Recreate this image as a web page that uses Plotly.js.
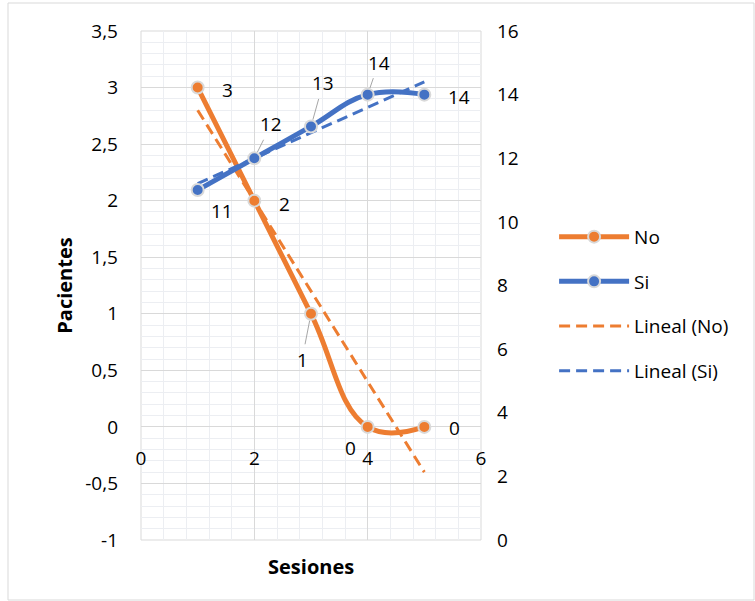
<!DOCTYPE html>
<html>
<head>
<meta charset="utf-8">
<script src="https://cdn.plot.ly/plotly-3.0.1.min.js"></script>
<style>
  html, body { margin: 0; padding: 0; background: #ffffff; }
  #chart { width: 755px; height: 601px; }
</style>
</head>
<body>
<div id="chart"></div>
<script>
// ---- data ----
const sessions = [1, 2, 3, 4, 5];
const noValues = [3, 2, 1, 0, 0];
const siValues = [11, 12, 13, 14, 14];
const seriesNames = ['No', 'Si', 'Lineal (No)', 'Lineal (Si)'];
const xTickVals = [0, 2, 4, 6];
const xTickLabels = ['0', '2', '4', '6'];
const leftTickVals = [-1, -0.5, 0, 0.5, 1, 1.5, 2, 2.5, 3, 3.5];
const leftTickLabels = ['-1', '-0,5', '0', '0,5', '1', '1,5', '2', '2,5', '3', '3,5'];
const rightTickVals = [0, 2, 4, 6, 8, 10, 12, 14, 16];
const rightTickLabels = ['0', '2', '4', '6', '8', '10', '12', '14', '16'];

// ---- label placement (style only: pixel offsets, leader flag) ----
const noLabelOffsets = [[30, 2, false], [30, 3, false], [-9, 46, true], [-17, 21, false], [30, 1, false]];
const siLabelOffsets = [[24, 21, false], [17, -34, true], [12, -43, true], [11, -32, true], [35, 2, false]];

const ORANGE = '#ED7D31';
const BLUE = '#4472C4';
const FONT = '"Open Sans", Lato, sans-serif';
const FS = 19;
const TITLE_FS = 20;

// least-squares linear trendline computed from the series
function linearFit(xs, ys) {
  const n = xs.length;
  const mx = xs.reduce((a, b) => a + b, 0) / n;
  const my = ys.reduce((a, b) => a + b, 0) / n;
  let sxy = 0, sxx = 0;
  for (let i = 0; i < n; i++) { sxy += (xs[i] - mx) * (ys[i] - my); sxx += (xs[i] - mx) * (xs[i] - mx); }
  const m = sxy / sxx, b = my - m * mx;
  const xEnds = [xs[0], xs[n - 1]];
  return { x: xEnds, y: xEnds.map(v => m * v + b) };
}
const noFit = linearFit(sessions, noValues);
const siFit = linearFit(sessions, siValues);

const markerStyle = c => ({ size: 12, color: c, line: { color: '#d9d9d9', width: 2 } });
const DASH = '11px,6px';

const traces = [
  { x: noFit.x, y: noFit.y, yaxis: 'y', mode: 'lines', name: seriesNames[2], legendgroup: 'c', legendrank: 3,
    line: { color: ORANGE, width: 3, dash: DASH }, hoverinfo: 'skip' },
  { x: sessions, y: noValues, yaxis: 'y', mode: 'lines+markers', name: seriesNames[0], legendgroup: 'a', legendrank: 1,
    line: { color: ORANGE, width: 5, shape: 'spline', smoothing: 1.2 }, marker: markerStyle(ORANGE) },
  { x: siFit.x, y: siFit.y, yaxis: 'y2', mode: 'lines', name: seriesNames[3], legendgroup: 'd', legendrank: 4,
    line: { color: BLUE, width: 3, dash: DASH }, hoverinfo: 'skip' },
  { x: sessions, y: siValues, yaxis: 'y2', mode: 'lines+markers', name: seriesNames[1], legendgroup: 'b', legendrank: 2,
    line: { color: BLUE, width: 5, shape: 'spline', smoothing: 1.2 }, marker: markerStyle(BLUE) }
];

const labelFont = { family: FONT, size: FS, color: '#000000' };
function makeLabels(values, yref, offsets) {
  return values.map((v, i) => {
    const [dx, dy, leader] = offsets[i];
    const base = { x: sessions[i], y: v, xref: 'x', yref: yref, text: String(v), font: labelFont };
    if (leader) {
      return Object.assign(base, { showarrow: true, arrowhead: 0, arrowwidth: 1, arrowcolor: '#a6a6a6',
        ax: dx, ay: dy, standoff: 7, borderpad: 2 });
    }
    return Object.assign(base, { showarrow: false, xshift: dx, yshift: -dy });
  });
}

const annotations = [].concat(
  makeLabels(noValues, 'y', noLabelOffsets),
  makeLabels(siValues, 'y2', siLabelOffsets),
  [{ text: '<b>Sesiones</b>', xref: 'paper', yref: 'paper', x: 0.5, y: -0.022, yanchor: 'top',
     showarrow: false, font: { family: FONT, size: TITLE_FS, color: '#000000' } }]
);

const layout = {
  width: 755, height: 601,
  margin: { l: 141, r: 274, t: 31, b: 61 },
  paper_bgcolor: '#ffffff', plot_bgcolor: '#ffffff',
  font: { family: FONT, size: FS, color: '#000000' },
  showlegend: true,
  legend: { x: 1.215, y: 0.633, xanchor: 'left', yanchor: 'top', traceorder: 'grouped',
            tracegroupgap: 17, itemwidth: 70, font: { family: FONT, size: FS, color: '#000000' },
            bgcolor: 'rgba(0,0,0,0)' },
  xaxis: {
    range: [0, 6], tickmode: 'array', tickvals: xTickVals, ticktext: xTickLabels,
    anchor: 'free', position: (0 - (-1)) / (3.5 - (-1)),
    showgrid: true, gridcolor: '#d9d9d9', gridwidth: 1,
    minor: { tickmode: 'linear', tick0: 0, dtick: 0.4, showgrid: true, gridcolor: '#eceef2', gridwidth: 1 },
    zeroline: false, showline: false, ticks: '', ticklabelstandoff: 18,
    tickfont: { family: FONT, size: FS, color: '#000000' }
  },
  yaxis: {
    range: [-1, 3.5], tickmode: 'array', tickvals: leftTickVals, ticktext: leftTickLabels,
    showgrid: true, gridcolor: '#d9d9d9', gridwidth: 1,
    minor: { tickmode: 'linear', tick0: -1, dtick: 0.1, showgrid: true, gridcolor: '#eceef2', gridwidth: 1 },
    zeroline: false, showline: false, ticks: '', ticklabelstandoff: 22,
    tickfont: { family: FONT, size: FS, color: '#000000' },
    title: { text: '<b>Pacientes</b>', standoff: 7, font: { family: FONT, size: TITLE_FS, color: '#000000' } }
  },
  yaxis2: {
    range: [0, 16], tickmode: 'array', tickvals: rightTickVals, ticktext: rightTickLabels,
    overlaying: 'y', side: 'right', anchor: 'x',
    showgrid: false, zeroline: false, showline: false, ticks: '', ticklabelstandoff: 15,
    tickfont: { family: FONT, size: FS, color: '#000000' }
  },
  shapes: [
    { type: 'rect', xref: 'paper', yref: 'paper', x0: 0, x1: 1, y0: 0, y1: 1,
      line: { color: '#d9d9d9', width: 1 }, layer: 'below' },
    { type: 'rect', xref: 'paper', yref: 'paper', x0: (8 - 141) / 340, x1: (754 - 141) / 340,
      y0: (540 - 600) / 509, y1: (540 - 3) / 509, line: { color: '#d9d9d9', width: 1 }, layer: 'below' }
  ],
  annotations: annotations
};

Plotly.newPlot('chart', traces, layout, { staticPlot: true, displayModeBar: false });
</script>
</body>
</html>
